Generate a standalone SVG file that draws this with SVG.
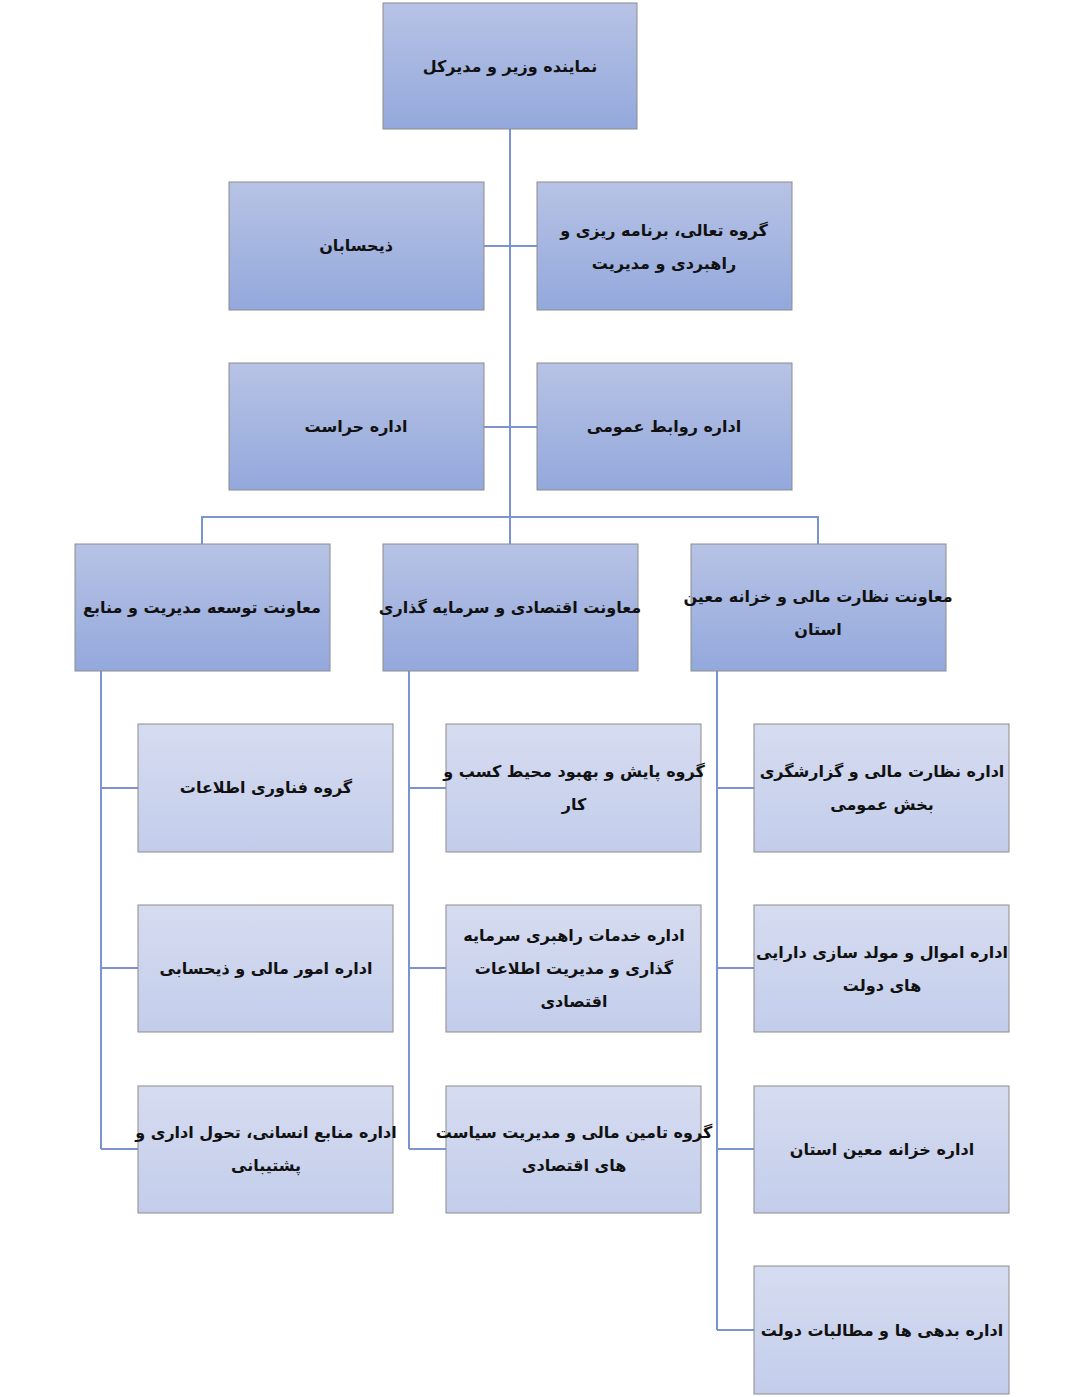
<svg xmlns="http://www.w3.org/2000/svg" width="1084" height="1397" viewBox="0 0 1084 1397">
<defs>
<linearGradient id="g1" x1="0" y1="0" x2="0" y2="1"><stop offset="0" stop-color="#b7c3e5"/><stop offset="1" stop-color="#93a8dc"/></linearGradient>
<linearGradient id="g2" x1="0" y1="0" x2="0" y2="1"><stop offset="0" stop-color="#d6dcf0"/><stop offset="1" stop-color="#c3cdeb"/></linearGradient>
</defs>
<style>
.a rect{fill:url(#g1);stroke:#8c8c8c;stroke-width:1}
.b rect{fill:url(#g2);stroke:#8c8c8c;stroke-width:1}
text{font-family:"DejaVu Sans","Noto Sans",sans-serif;font-weight:bold;font-size:16px;fill:#111;text-anchor:middle;direction:rtl}
#conn path{fill:none;stroke:#7b93d0;stroke-width:2}
</style>
<rect width="1084" height="1397" fill="#fff"/>
<g id="conn"><path d="M510 129V544M484 246H537M484 427H537M202 544V517H818V544M101 671V1149M101 788H138M101 968H138M101 1149H138M409 671V1149M409 788H446M409 968H446M409 1149H446M717 671V1330M717 788H754M717 968H754M717 1149H754M717 1330H754"/></g>
<g id="n0" class="a"><rect x="383" y="3" width="254" height="126"/><text x="510" y="72">نماینده وزیر و مدیرکل</text></g>
<g id="n1" class="a"><rect x="229" y="182" width="255" height="128"/><text x="356" y="251">ذیحسابان</text></g>
<g id="n2" class="a"><rect x="537" y="182" width="255" height="128"/><text x="664" y="236">گروه تعالی، برنامه ریزی و</text><text x="664" y="269">راهبردی و مدیریت</text></g>
<g id="n3" class="a"><rect x="229" y="363" width="255" height="127"/><text x="356" y="432">اداره حراست</text></g>
<g id="n4" class="a"><rect x="537" y="363" width="255" height="127"/><text x="664" y="432">اداره روابط عمومی</text></g>
<g id="n5" class="a"><rect x="75" y="544" width="255" height="127"/><text x="202" y="613">معاونت توسعه مدیریت و منابع</text></g>
<g id="n6" class="a"><rect x="383" y="544" width="255" height="127"/><text x="510" y="613">معاونت اقتصادی و سرمایه گذاری</text></g>
<g id="n7" class="a"><rect x="691" y="544" width="255" height="127"/><text x="818" y="602">معاونت نظارت مالی و خزانه معین</text><text x="818" y="635">استان</text></g>
<g id="n8" class="b"><rect x="138" y="724" width="255" height="128"/><text x="266" y="793">گروه فناوری اطلاعات</text></g>
<g id="n9" class="b"><rect x="138" y="905" width="255" height="127"/><text x="266" y="974">اداره امور مالی و ذیحسابی</text></g>
<g id="n10" class="b"><rect x="138" y="1086" width="255" height="127"/><text x="266" y="1138">اداره منابع انسانی، تحول اداری و</text><text x="266" y="1171">پشتیبانی</text></g>
<g id="n11" class="b"><rect x="446" y="724" width="255" height="128"/><text x="574" y="777">گروه پایش و بهبود محیط کسب و</text><text x="574" y="810">کار</text></g>
<g id="n12" class="b"><rect x="446" y="905" width="255" height="127"/><text x="574" y="941">اداره خدمات راهبری سرمایه</text><text x="574" y="974">گذاری و مدیریت اطلاعات</text><text x="574" y="1007">اقتصادی</text></g>
<g id="n13" class="b"><rect x="446" y="1086" width="255" height="127"/><text x="574" y="1138">گروه تامین مالی و مدیریت سیاست</text><text x="574" y="1171">های اقتصادی</text></g>
<g id="n14" class="b"><rect x="754" y="724" width="255" height="128"/><text x="882" y="777">اداره نظارت مالی و گزارشگری</text><text x="882" y="810">بخش عمومی</text></g>
<g id="n15" class="b"><rect x="754" y="905" width="255" height="127"/><text x="882" y="958">اداره اموال و مولد سازی دارایی</text><text x="882" y="991">های دولت</text></g>
<g id="n16" class="b"><rect x="754" y="1086" width="255" height="127"/><text x="882" y="1155">اداره خزانه معین استان</text></g>
<g id="n17" class="b"><rect x="754" y="1266" width="255" height="128"/><text x="882" y="1336">اداره بدهی ها و مطالبات دولت</text></g>
</svg>
